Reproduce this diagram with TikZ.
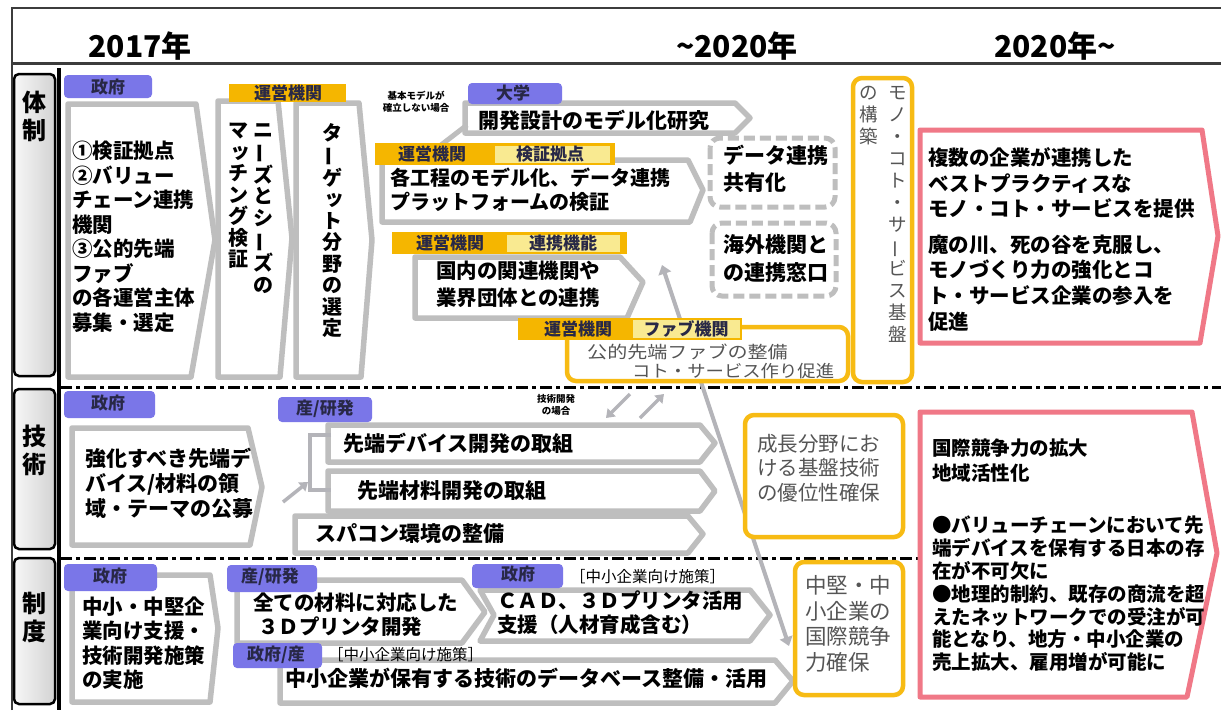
\documentclass[tikz,border=0pt]{standalone}
\usepackage{fontspec}
\setmainfont{Noto Sans CJK JP}
\usetikzlibrary{arrows.meta,calc}
\definecolor{frame}{RGB}{60,60,60}
\definecolor{gborder}{RGB}{190,190,190}
\definecolor{conngray}{RGB}{180,180,185}
\definecolor{tabpurple}{RGB}{122,118,232}
\definecolor{taborange}{RGB}{245,182,0}
\definecolor{hlyellow}{RGB}{249,234,145}
\definecolor{ybord}{RGB}{247,187,20}
\definecolor{pinkb}{RGB}{240,120,135}
\definecolor{tabtext}{RGB}{40,40,70}
\definecolor{thingray}{RGB}{85,85,85}
\newcommand\myfs[2]{\fontsize{#1}{#2}\selectfont}
\newcommand\vbar{\rotatebox[origin=c]{90}{ー}}
\newcommand\vsm[1]{\makebox[1em][l]{\hspace{0.14em}\raisebox{0.05em}{#1}}}
\begin{document}
\begin{tikzpicture}[x=1pt,y=-1pt,
  gbox/.style={draw=gborder,line width=5.5pt,fill=white,line join=round},
  ptab/.style={fill=tabpurple,rounded corners=4pt},
  otab/.style={fill=taborange},
  hl/.style={fill=hlyellow},
  ybox/.style={draw=ybord,line width=4.5pt,fill=white,rounded corners=9pt},
  pbox/.style={draw=pinkb,line width=5pt,fill=white,line join=round},
  dbox/.style={draw=gborder,line width=5pt,dash pattern=on 11pt off 5pt,rounded corners=10pt,fill=white},
  cattab/.style={draw=black,line width=2.5pt,rounded corners=5pt,left color=gray!6,right color=gray!35},
  sep/.style={line width=3pt,dash pattern=on 12pt off 4pt on 4pt off 4pt},
  btxt/.style={inner sep=0pt,font=\bfseries\myfs{20.5}{24.5},align=left,anchor=west},
  ttxt/.style={inner sep=0pt,text=thingray,font=\myfs{20}{24.5},align=left,anchor=west},
  tabtxt/.style={inner sep=0pt,text=tabtext,font=\bfseries\myfs{17}{20}},
  small/.style={inner sep=0pt,font=\bfseries\myfs{9.5}{12},align=center},
  note/.style={inner sep=0pt,font=\myfs{15.5}{18},anchor=west},
  vtxt/.style={inner sep=0pt,align=center,anchor=north,font=\bfseries\myfs{20}{21.5}},
  cattxt/.style={inner sep=0pt,align=center,anchor=north,font=\bfseries\myfs{24}{28}},
  hdr/.style={inner sep=0pt,font=\bfseries\myfs{30}{30}},
  conn/.style={draw=conngray,line width=4pt,{Triangle[length=9pt,width=13pt]}-{Triangle[length=9pt,width=13pt]}},
  sconn/.style={draw=conngray,line width=3.5pt,-{Triangle[length=8pt,width=11pt]}}
]
\useasboundingbox (0,0) rectangle (1221,710);
\fill[white] (0,0) rectangle (1221,710);

% ---------- frame and header ----------
\draw[line width=2.5pt,draw=frame] (12,710) -- (12,8) -- (1221,8);
\draw[line width=3pt,draw=frame] (12,63) -- (1221,63);
\node[hdr] (h1) at (140,46) {2017年};
\node[hdr] (h2) at (737,46) {\textasciitilde 2020年};
\node[hdr] (h3) at (1055,46) {2020年\textasciitilde};

% ---------- category column ----------
\draw[line width=4pt] (59,68) -- (59,710);
\path[cattab] (14,74) rectangle (55,376);
\path[cattab] (14,389) rectangle (55,549);
\path[cattab] (14,558) rectangle (55,704);
\node[cattxt] (c1) at (34,91) {体\\制};
\node[cattxt] (c2) at (34,425) {技\\術};
\node[cattxt] (c3) at (34,592) {制\\度};

% ---------- separators ----------
\draw[sep] (60,387) -- (1221,387);
\draw[sep] (60,558) -- (918,558);

% ---------- long connector (behind boxes) ----------
\coordinate (L1) at (662,265);
\coordinate (L2) at (789,646);
\draw[conn] (L1) -- (L2);

% =========== ROW 1 : 体制 ===========
\path[gbox] (68,104) -- (196,104) -- (215,240) -- (191,377) -- (68,377) -- cycle;
\path[gbox] (218,101) -- (278,101) -- (292,238) -- (280,377) -- (218,377) -- cycle;
\path[gbox] (296,103) -- (359,103) -- (372,240) -- (361,377) -- (296,377) -- cycle;

\path[ptab] (64,75) rectangle (152,98);
\node[tabtxt] (t1) at (108,87) {政府};
\path[otab] (229,84) rectangle (346,102);
\node[tabtxt] (t2) at (288,93) {運営機関};

\node[btxt] (b1) at (72,237) {①検証拠点\\②バリュー\\チェーン連携\\機関\\③公的先端\\ファブ\\の各運営主体\\募集・選定};
\node[vtxt] (v1) at (263,123) {ニ\\\vbar\\ズ\\と\\シ\\\vbar\\ズ\\の};
\node[vtxt] (v2) at (238,123) {マ\\\vsm{ッ}\\チ\\ン\\グ\\検\\証};
\node[vtxt] (v3) at (332,123) {タ\\\vbar\\ゲ\\\vsm{ッ}\\ト\\分\\野\\の\\選\\定};

\node[small] (s1) at (416,102) {基本モデルが\\確立しない場合};

% model research arrow
\path[gbox] (465,103) -- (735,103) -- (750,118) -- (735,133) -- (465,133) -- cycle;
\coordinate (br1) at (467,125);
\coordinate (br2) at (432,152);
\draw[draw=gborder,line width=5pt] (br1) -- (br2);
\path[ptab] (468,83) rectangle (562,104);
\node[tabtxt] (t3) at (513,93) {大学};
\node[btxt,font=\bfseries\myfs{21}{24}] (b2) at (478,120) {開発設計のモデル化研究};

% process model arrow
\path[gbox] (382,160) -- (688,160) -- (703,190) -- (690,222) -- (382,222) -- cycle;
\path[otab] (375,143) rectangle (615,165);
\path[hl] (495,146) rectangle (610,163);
\node[tabtxt] (t4) at (432,154) {運営機関};
\node[tabtxt] (t5) at (550,154) {検証拠点};
\node[btxt,font=\bfseries\myfs{20}{24}] (b3) at (390,190) {各工程のモデル化、データ連携\\プラットフォームの検証};

% dashed boxes
\path[dbox] (710,138) rectangle (835,207);
\node[btxt,font=\bfseries\myfs{21}{27}] (b4) at (723,169) {データ連携\\共有化};
\path[dbox] (712,223) rectangle (836,296);
\node[btxt,font=\bfseries\myfs{21}{28}] (b5) at (723,259) {海外機関と\\の連携窓口};

% domestic cooperation arrow
\path[gbox] (415,257) -- (620,257) -- (643,282) -- (627,318) -- (415,318) -- cycle;
\path[otab] (392,232) rectangle (627,254);
\path[hl] (507,235) rectangle (620,252);
\node[tabtxt] (t6) at (450,243) {運営機関};
\node[tabtxt] (t7) at (563,243) {連携機能};
\node[btxt,font=\bfseries\myfs{20.5}{27}] (b6) at (436,284) {国内の関連機関や\\業界団体との連携};

% fab box
\path[ybox] (567,327) rectangle (848,381);
\path[otab] (518,318) rectangle (742,340);
\path[hl] (633,320) rectangle (740,338);
\node[tabtxt] (t8) at (578,329) {運営機関};
\node[tabtxt] (t9) at (686,329) {ファブ機関};
\node[ttxt,font=\myfs{17}{18}] (f1) at (587,352) {\scalebox{1.18}[1]{公的先端ファブの整備}};
\node[ttxt,font=\myfs{17}{18}] (f2) at (632,371) {\scalebox{1.08}[1]{コト・サービス作り促進}};

% vertical platform box
\path[ybox] (853,78) rectangle (912,382);
\node[vtxt,font=\myfs{18.5}{22},text=thingray] (v4) at (898,86) {モ\\ノ\\・\\コ\\ト\\・\\サ\\\vbar\\ビ\\ス\\基\\盤};
\node[vtxt,font=\myfs{18.5}{22},text=thingray] (v5) at (869,86) {の\\構\\築};

% pink outcome 1
\path[pbox] (920,130) -- (1202,130) -- (1218,236) -- (1200,343) -- (920,343) -- cycle;
\node[btxt,font=\bfseries\myfs{20.5}{25.5}] (p1) at (928,183) {複数の企業が連携した\\ベストプラクティスな\\モノ・コト・サービスを提供};
\node[btxt,font=\bfseries\myfs{20.5}{25.7}] (p2) at (928,283) {魔の川、死の谷を克服し、\\モノづくり力の強化とコ\\ト・サービス企業の参入を\\促進};

% =========== ROW 2 : 技術 ===========
\path[gbox] (72,428) -- (248,428) -- (262,487) -- (250,545) -- (72,545) -- cycle;
\path[ptab] (64,391) rectangle (155,418);
\node[tabtxt] (t10) at (108,403) {政府};
\node[btxt,font=\bfseries\myfs{21}{25}] (b7) at (85,483) {強化すべき先端デ\\バイス/材料の領\\域・テーマの公募};

\path[gbox] (328,425) -- (700,425) -- (715,443) -- (700,462) -- (328,462) -- cycle;
\path[gbox] (328,471) -- (700,471) -- (715,491) -- (700,511) -- (328,511) -- cycle;
\path[gbox] (295,516) -- (688,516) -- (703,534) -- (688,553) -- (295,553) -- cycle;
\path[ptab] (278,397) rectangle (372,422);
\node[tabtxt] (t11) at (325,409) {産/研発};
\node[btxt,font=\bfseries\myfs{21}{25}] (b8) at (343,443) {先端デバイス開発の取組};
\node[btxt,font=\bfseries\myfs{21}{25}] (b9) at (357,491) {先端材料開発の取組};
\node[btxt,font=\bfseries\myfs{21}{25}] (b10) at (315,534) {スパコン環境の整備};

% bracket and small arrows
\coordinate (bk1) at (331,435);
\coordinate (bk2) at (310,435);
\coordinate (bk3) at (310,490);
\coordinate (bk4) at (331,490);
\draw[draw=conngray,line width=4pt] (bk1) -- (bk2) -- (bk3) -- (bk4);
\coordinate (sa1) at (283,502);
\coordinate (sa2) at (308,482);
\draw[sconn] (sa1) -- (sa2);
\node[small] (s2) at (556,405) {技術開発\\の場合};
\coordinate (da1) at (630,394);
\coordinate (da2) at (606,418);
\coordinate (da3) at (640,418);
\coordinate (da4) at (664,394);
\draw[sconn] (da1) -- (da2);
\draw[sconn] (da3) -- (da4);

% growth field box
\path[ybox] (745,415) rectangle (903,537);
\node[ttxt,font=\myfs{20.5}{24.5}] (y1) at (757,468) {成長分野にお\\ける基盤技術\\の優位性確保};

% pink outcome 2
\path[pbox] (920,412) -- (1192,412) -- (1217,553) -- (1187,697) -- (920,697) -- cycle;
\node[btxt,font=\bfseries\myfs{19.5}{25}] (p3) at (932,461) {国際競争力の拡大\\地域活性化};
\node[btxt,font=\bfseries\myfs{19.5}{22.8}] (p4) at (932,594) {●バリューチェーンにおいて先\\端デバイスを保有する日本の存\\在が不可欠に\\●地理的制約、既存の商流を超\\えたネットワークでの受注が可\\能となり、地方・中小企業の\\売上拡大、雇用増が可能に};

% =========== ROW 3 : 制度 ===========
\path[gbox] (72,575) -- (210,575) -- (218,628) -- (210,702) -- (72,702) -- cycle;
\path[ptab] (64,564) rectangle (157,591);
\node[tabtxt] (t12) at (110,576) {政府};
\node[btxt,font=\bfseries\myfs{20.5}{24.5}] (b11) at (82,643) {中小・中堅企\\業向け支援・\\技術開発施策\\の実施};

\path[gbox] (280,660) -- (775,660) -- (793,681) -- (775,703) -- (280,703) -- cycle;
\path[gbox] (237,580) -- (462,580) -- (485,612) -- (462,643) -- (237,643) -- cycle;
\path[gbox] (480,590) -- (750,590) -- (770,615) -- (750,641) -- (480,641) -- (494,615) -- cycle;
\path[ptab] (227,565) rectangle (317,592);
\node[tabtxt] (t13) at (270,577) {産/研発};
\node[btxt,font=\bfseries\myfs{20.5}{24}] (b12) at (253,615) {全ての材料に対応した\\\hspace{5pt}３Ｄプリンタ開発};
\path[ptab] (472,564) rectangle (563,588);
\node[tabtxt] (t14) at (518,574) {政府};
\node[note] (n1) at (570,577) {［中小企業向け施策］};
\node[btxt,font=\bfseries\myfs{20.5}{24}] (b13) at (497,613) {ＣＡＤ、３Ｄプリンタ活用\\支援（人材育成含む）};
\path[ptab] (233,643) rectangle (322,668);
\node[tabtxt] (t15) at (276,655) {政府/産};
\node[note] (n2) at (328,655) {［中小企業向け施策］};
\node[btxt,font=\bfseries\myfs{21}{24}] (b14) at (285,678) {中小企業が保有する技術のデータベース整備・活用};

% SME box
\path[ybox] (795,562) rectangle (903,695);
\node[ttxt,font=\myfs{21.5}{25.7}] (y2) at (805,624) {中堅・中\\小企業の\\国際競争\\力確保};
\end{tikzpicture}
\end{document}
